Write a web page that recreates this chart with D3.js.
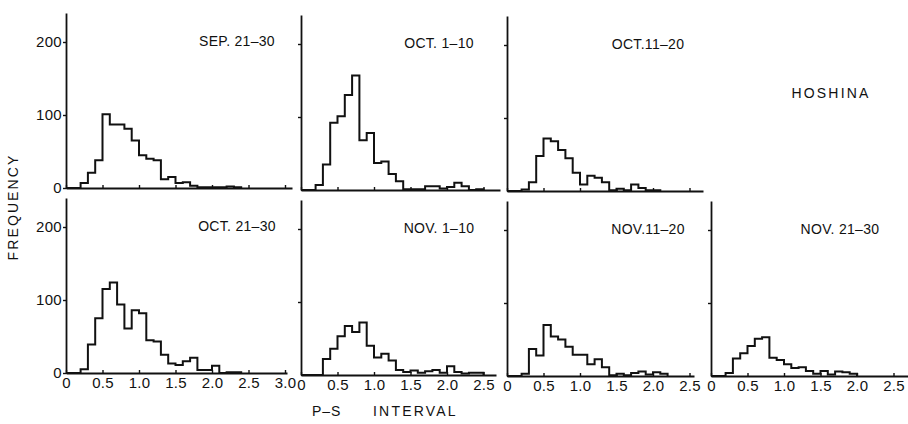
<!DOCTYPE html>
<html>
<head>
<meta charset="utf-8">
<script src="https://cdn.jsdelivr.net/npm/d3@7"></script>
<style>
body { margin: 0; background: #fff; }
svg { display: block; font-family: "Liberation Sans", Arial, sans-serif; }
</style>
</head>
<body>
<svg id="chart" width="908" height="424"></svg>
<script>
var binWidth = 0.1;

// events per 0.1 s bin of P-S interval, first bin starts at 0.0
var sep21to30 = [0, 0, 7, 21, 38, 101, 87, 87, 81, 65, 45, 40, 38, 12, 15, 7, 8, 3, 1, 1, 1, 1, 2, 1];
var oct1to10 = [0, 0, 7, 35, 92, 101, 130, 157, 68, 78, 37, 39, 22, 12, 1, 1, 1, 5, 5, 2, 4, 10, 5, 0, 1];
var oct11to20 = [0, 0, 2, 12, 48, 72, 68, 56, 45, 25, 9, 21, 18, 12, 1, 3, 1, 9, 4, 1, 1];
var oct21to30 = [0, 0, 5, 39, 75, 115, 124, 94, 61, 86, 82, 45, 43, 25, 13, 11, 16, 21, 4, 4, 10, 0, 1, 1];
var nov1to10 = [0, 0, 0, 22, 36, 53, 67, 59, 72, 40, 24, 29, 20, 7, 4, 6, 3, 5, 7, 3, 12, 4, 2, 3, 3];
var nov11to20 = [0, 0, 3, 37, 28, 70, 54, 50, 40, 29, 29, 16, 23, 12, 1, 3, 1, 4, 6, 2, 5, 3];
var nov21to30 = [0, 0, 4, 24, 31, 41, 51, 53, 25, 22, 16, 11, 12, 7, 3, 7, 2, 6, 5, 3];

var panelTitles = ['SEP. 21–30', 'OCT. 1–10', 'OCT.11–20', 'OCT. 21–30', 'NOV. 1–10', 'NOV.11–20', 'NOV. 21–30'];
var xTicksLong = [0, 0.5, 1.0, 1.5, 2.0, 2.5, 3.0];
var xTicksShort = [0, 0.5, 1.0, 1.5, 2.0, 2.5];
var yTicks = [0, 100, 200];

var panels = [
    {counts: sep21to30, title: panelTitles[0], row: 0, col: 0, ticks: xTicksLong},
    {counts: oct1to10, title: panelTitles[1], row: 0, col: 1, ticks: xTicksShort},
    {counts: oct11to20, title: panelTitles[2], row: 0, col: 2, ticks: xTicksShort},
    {counts: oct21to30, title: panelTitles[3], row: 1, col: 0, ticks: xTicksLong},
    {counts: nov1to10, title: panelTitles[4], row: 1, col: 1, ticks: xTicksShort},
    {counts: nov11to20, title: panelTitles[5], row: 1, col: 2, ticks: xTicksShort},
    {counts: nov21to30, title: panelTitles[6], row: 1, col: 3, ticks: xTicksShort}
];

var svg = d3.select('#chart');
var unit = 73;          // px for 1.0 s
var perHundred = 73;    // px for 100 events
var rowBase = [188, 373];
var rowTop = [13, 198];
var colDrop = [0, 2, 3, 3];
var colZero = [66, 301, 507, 711];
var colEnd = [[292, 500, 703], [287, 496, 694, 908]];
var titleDx = [171, 138, 141, 129];
var fontFamily = '"Liberation Sans", Arial, sans-serif';

var fmtTick = function(d) { return d === 0 ? '0' : d3.format('.1f')(d); };
var noLabel = function() { return ''; };

panels.forEach(function(p) {
    var base = rowBase[p.row] + colDrop[p.col];
    var top = rowTop[p.row] + colDrop[p.col];
    var x0 = colZero[p.col];
    var x1 = colEnd[p.row][p.col];
    var x = d3.scaleLinear().domain([0, (x1 - x0) / unit]).range([x0, x1]);
    var y = d3.scaleLinear().domain([0, (base - top) / perHundred * 100]).range([base, top]);
    var g = svg.append('g').attr('class', 'panel');

    var xAxis = d3.axisBottom(x)
        .tickValues(p.ticks)
        .tickSize(-3)
        .tickSizeOuter(0)
        .tickPadding(4)
        .tickFormat(p.row === 1 ? fmtTick : noLabel);
    var gx = g.append('g').attr('transform', 'translate(0,' + base + ')').call(xAxis);

    var yAxis = d3.axisLeft(y)
        .tickValues(p.col === 0 ? yTicks : yTicks.slice(1))
        .tickSize(3)
        .tickSizeOuter(0)
        .tickPadding(1)
        .tickFormat(p.col === 0 ? d3.format('d') : noLabel);
    var gy = g.append('g').attr('transform', 'translate(' + x0 + ',0)').call(yAxis);

    [gx, gy].forEach(function(a) {
        a.attr('font-family', fontFamily).attr('font-size', 15);
        a.select('.domain').attr('stroke', '#111').attr('stroke-width', 1.8);
        a.selectAll('.tick line').attr('stroke', '#111').attr('stroke-width', 1.4);
        a.selectAll('.tick text').attr('fill', '#111').attr('letter-spacing', 0.3);
    });

    var pts = p.counts.map(function(c, i) { return [i * binWidth, c]; });
    pts.push([p.counts.length * binWidth, 0]);
    var line = d3.line()
        .x(function(d) { return x(d[0]); })
        .y(function(d) { return y(d[1]); })
        .curve(d3.curveStepAfter);
    g.append('path')
        .datum(pts)
        .attr('d', line)
        .attr('fill', 'none')
        .attr('stroke', '#111')
        .attr('stroke-width', 2)
        .attr('stroke-linejoin', 'miter');

    g.append('text')
        .attr('x', x0 + titleDx[p.col])
        .attr('y', top + 33)
        .attr('text-anchor', 'middle')
        .attr('font-size', 14)
        .attr('letter-spacing', 0.3)
        .attr('fill', '#111')
        .text(p.title);
});

svg.append('text')
    .attr('x', 831).attr('y', 98)
    .attr('text-anchor', 'middle')
    .attr('font-size', 14)
    .attr('letter-spacing', 2.2)
    .attr('fill', '#111')
    .text('HOSHINA');

svg.append('text')
    .attr('transform', 'translate(18,207) rotate(-90)')
    .attr('text-anchor', 'middle')
    .attr('font-size', 14)
    .attr('letter-spacing', 2.1)
    .attr('fill', '#111')
    .text('FREQUENCY');

svg.append('text')
    .attr('x', 312).attr('y', 416)
    .attr('font-size', 14)
    .attr('letter-spacing', 1)
    .attr('fill', '#111')
    .text('P–S');

svg.append('text')
    .attr('x', 373).attr('y', 416)
    .attr('font-size', 14)
    .attr('letter-spacing', 2.2)
    .attr('fill', '#111')
    .text('INTERVAL');
</script>
</body>
</html>
